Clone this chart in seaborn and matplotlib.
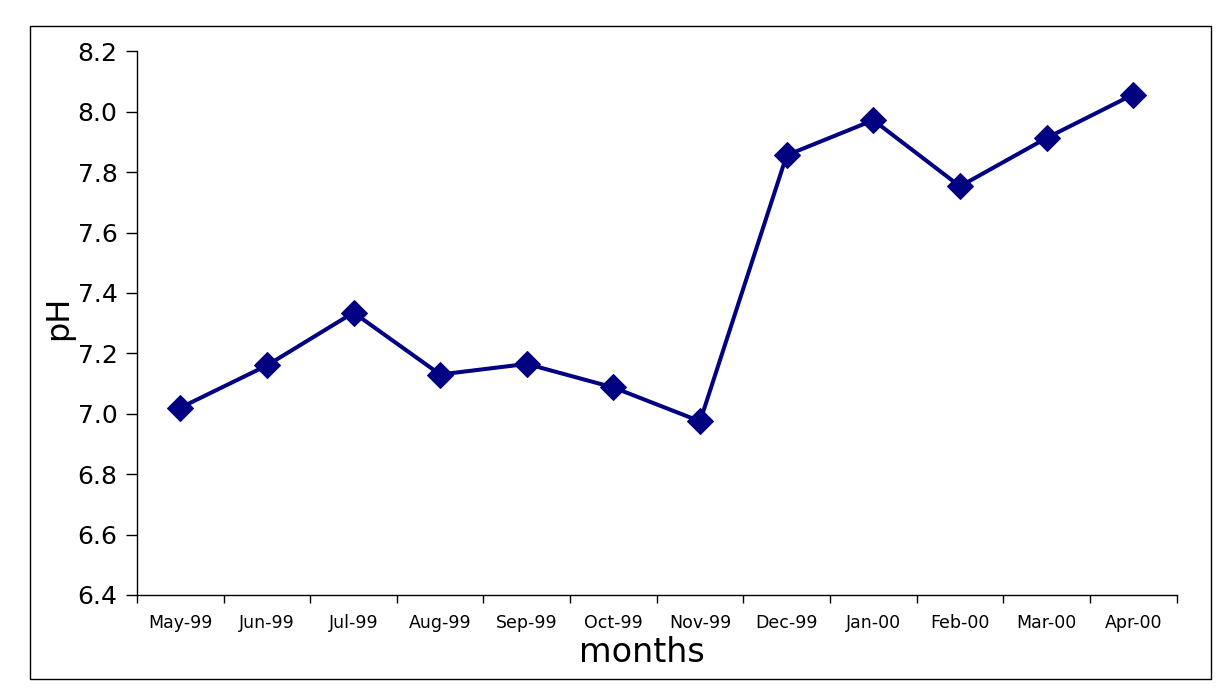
import matplotlib
matplotlib.use("Agg")
import matplotlib.pyplot as plt
import seaborn as sns
import numpy as np
import pandas as pd
from matplotlib.patches import Rectangle

months = ["May-99", "Jun-99", "Jul-99", "Aug-99", "Sep-99", "Oct-99",
          "Nov-99", "Dec-99", "Jan-00", "Feb-00", "Mar-00", "Apr-00"]
ph = [7.02, 7.16, 7.335, 7.13, 7.165, 7.087, 6.975, 7.856, 7.972, 7.753, 7.913, 8.057]
yticks = [6.4, 6.6, 6.8, 7.0, 7.2, 7.4, 7.6, 7.8, 8.0, 8.2]

sns.set_theme(style="white")
plt.rcParams['font.family'] = ['DejaVu Sans']
plt.rcParams['text.color'] = 'black'
plt.rcParams['axes.labelcolor'] = 'black'
plt.rcParams['xtick.color'] = 'black'
plt.rcParams['ytick.color'] = 'black'

fig = plt.figure(figsize=(12.23, 7.0), dpi=100)
ax = fig.add_axes([0.112, 0.15, 0.85, 0.7767])

df = pd.DataFrame({"idx": np.arange(len(months)), "pH": ph})
sns.lineplot(data=df, x="idx", y="pH", ax=ax, color="#000080", linewidth=2.9,
             marker="D", markersize=13, markeredgecolor="#000080", sort=False)

ax.set_xlim(-0.5, len(months) - 0.5)
ax.set_ylim(6.4, 8.2)
ax.set_yticks(yticks)
ax.set_yticklabels([f"{v:.1f}" for v in yticks], fontsize=18)
ax.set_xticks(np.arange(-0.5, len(months), 1.0))
ax.set_xticklabels([])
ax.set_xticks(np.arange(len(months)), minor=True)
ax.set_xticklabels(months, minor=True, fontsize=12.5)
ax.tick_params(axis="x", which="major", direction="out", length=6, width=1, color="black", bottom=True)
ax.tick_params(axis="x", which="minor", length=0, pad=14, bottom=True)
ax.tick_params(axis="y", direction="out", length=8, width=1, color="black", left=True, pad=6)

for s in ["top", "right"]:
    ax.spines[s].set_visible(False)
for s in ["left", "bottom"]:
    ax.spines[s].set_color("black")
    ax.spines[s].set_linewidth(1)

ax.set_xlabel("months", fontsize=24, labelpad=0)
ax.set_ylabel("pH", fontsize=23, labelpad=-4)
ax.xaxis.set_label_coords(0.486, -0.075)
ax.yaxis.set_label_coords(-0.06, 0.51)

fig.patches.append(Rectangle((30 / 1223, 1 - 679 / 700), 1181 / 1223, 653 / 700,
                             transform=fig.transFigure, fill=False,
                             edgecolor="black", linewidth=1))

fig.savefig("out.png", dpi=100)
